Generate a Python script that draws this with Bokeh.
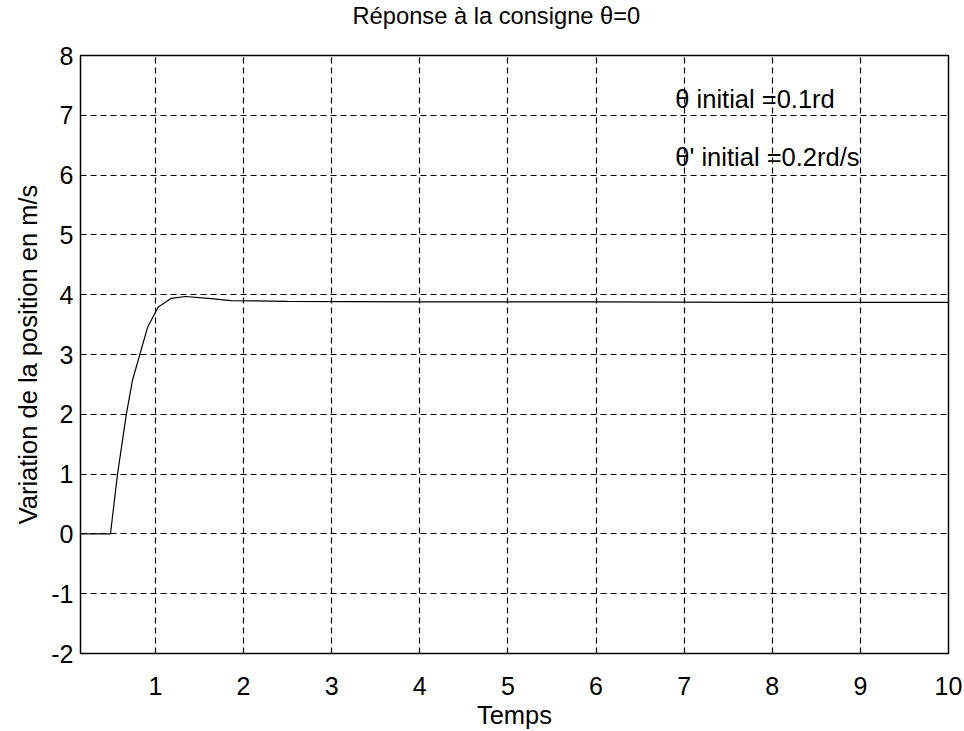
from bokeh.plotting import figure
from bokeh.models import Range1d, FixedTicker, Label, Title
from bokeh.embed import file_html
from bokeh.resources import INLINE

# Response of the position variable to a zero set-point
temps = [0.15, 0.30, 0.45, 0.49, 0.57, 0.67, 0.74, 0.91, 1.03, 1.18, 1.34,
         1.60, 1.86, 2.50, 4.00, 6.00, 8.00, 10.0]
position = [0.0, 0.0, 0.0, 0.0, 1.0, 2.0, 2.57, 3.45, 3.79, 3.94, 3.97,
            3.94, 3.90, 3.89, 3.88, 3.88, 3.87, 3.87]

x_ticks = [1, 2, 3, 4, 5, 6, 7, 8, 9, 10]
y_ticks = [-2, -1, 0, 1, 2, 3, 4, 5, 6, 7, 8]

title_text = "R\u00e9ponse \u00e0 la consigne \u03b8=0"
notes = ["\u03b8 initial =0.1rd", "\u03b8' initial =0.2rd/s"]
note_x = [6.9, 6.9]
note_y = [7.27, 6.31]

FONT = "Liberation Sans"
TEXT_SIZE = "25.5px"
TICK_SIZE = "25px"

p = figure(width=964, height=731, output_backend="svg", toolbar_location=None,
           x_range=Range1d(0.15, 10), y_range=Range1d(-2, 8),
           min_border_left=80, min_border_right=16,
           min_border_top=55, min_border_bottom=74)

# default title unused; a thin spacer lifts the real title away from the frame
p.title.text = ""
p.title.text_font_size = "0px"
p.title.standoff = 0
p.add_layout(Title(text=" ", text_font_size="1px", standoff=24), "above")
p.add_layout(Title(text=title_text, align="left", offset=272, standoff=0,
                   text_font=FONT, text_font_size="23.7px",
                   text_font_style="normal", text_color="black"), "above")

p.line(temps, position, line_color="black", line_width=1.2)

for txt, xv, yv in zip(notes, note_x, note_y):
    p.add_layout(Label(x=xv, y=yv, text=txt, text_font=FONT,
                       text_font_size=TEXT_SIZE, text_baseline="middle",
                       text_color="black"))

p.xaxis.ticker = FixedTicker(ticks=x_ticks)
p.yaxis.ticker = FixedTicker(ticks=y_ticks)
p.yaxis.major_label_overrides = {t: str(t) for t in y_ticks}
p.xaxis.axis_label = "Temps"
p.yaxis.axis_label = "Variation de la position en m/s"

for ax in (p.xaxis[0], p.yaxis[0]):
    ax.axis_label_text_font = FONT
    ax.axis_label_text_font_size = TEXT_SIZE
    ax.axis_label_text_font_style = "normal"
    ax.axis_label_text_color = "black"
    ax.major_label_text_font = FONT
    ax.major_label_text_font_size = TICK_SIZE
    ax.major_label_text_color = "black"
    ax.major_tick_in = 5
    ax.major_tick_out = 0
    ax.minor_tick_line_color = None
    ax.axis_line_color = "black"
    ax.major_tick_line_color = "black"

p.xaxis.major_label_standoff = 23
p.xaxis.axis_label_standoff = 3
p.yaxis.major_label_standoff = 7
p.yaxis.axis_label_standoff = 6

p.xgrid.ticker = FixedTicker(ticks=x_ticks)
p.ygrid.ticker = FixedTicker(ticks=y_ticks)
for g in (p.xgrid[0], p.ygrid[0]):
    g.grid_line_color = "black"
    g.grid_line_dash = "6 4"
    g.grid_line_width = 1.2
    g.grid_line_alpha = 1.0

p.outline_line_color = "black"
p.outline_line_width = 1.5
p.background_fill_color = "white"
p.border_fill_color = "white"

open("out.html", "w").write(file_html(p, INLINE))
